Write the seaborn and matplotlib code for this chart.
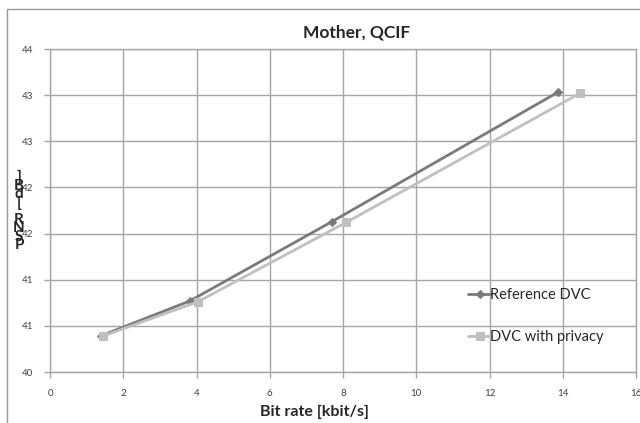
import numpy as np
import pandas as pd
import seaborn as sns
import matplotlib.pyplot as plt
from matplotlib.patches import Rectangle

# data
ref_rate = [1.38, 3.82, 7.70, 13.86]
ref_psnr = [40.39, 40.77, 41.63, 43.03]
priv_rate = [1.45, 4.03, 8.08, 14.47]
priv_psnr = [40.39, 40.76, 41.62, 43.02]
x_ticks = [0, 2, 4, 6, 8, 10, 12, 14, 16]
y_ticks = [40.0, 40.5, 41.0, 41.5, 42.0, 42.5, 43.0, 43.5]
y_tick_labels = ['40', '41', '41', '42', '42', '43', '43', '44']  # Excel rounds to 0 decimals

sns.set_style('white')
plt.rcParams['font.family'] = ['Lato', 'DejaVu Sans']

fig = plt.figure(figsize=(6.4, 4.23), dpi=100)
ax = fig.add_axes([50 / 640, 1 - 372 / 423, 586 / 640, 323 / 423])

grid_col = '#a6a6a6'
ref_col = '#7a7a7a'
priv_col = '#c0c0c0'

sns.lineplot(x=ref_rate, y=ref_psnr, ax=ax, color=ref_col, lw=2, marker='D',
             markersize=4.5, markeredgecolor=ref_col, sort=False, label='Reference DVC')
sns.lineplot(x=priv_rate, y=priv_psnr, ax=ax, color=priv_col, lw=2, marker='s',
             markersize=5.5, markeredgecolor=priv_col, sort=False, label='DVC with privacy')

ax.set_xlim(0, 16)
ax.set_ylim(40, 43.5)
ax.set_xticks(x_ticks)
ax.set_xticklabels([str(t) for t in x_ticks])
ax.set_yticks(y_ticks)
ax.set_yticklabels(y_tick_labels)
ax.grid(True, color=grid_col, lw=1)
for s in ax.spines.values():
    s.set_color(grid_col)
    s.set_linewidth(1)
ax.tick_params(axis='both', direction='out', length=4, width=1, color=grid_col,
               labelsize=7, labelcolor='#404040', pad=8, left=True, bottom=True)
ax.tick_params(axis='x', pad=8)
ax.set_xlabel('')
ax.set_ylabel('')

leg = ax.legend(loc='center left', bbox_to_anchor=(462 / 640, 1 - 316 / 423),
                bbox_transform=fig.transFigure, frameon=False, fontsize=10.5,
                handlelength=1.6, handletextpad=-0.1, labelspacing=1.9,
                borderaxespad=0)
for t in leg.get_texts():
    t.set_color('#262626')

fig.text(357 / 640, 1 - 33 / 423, 'Mother, QCIF', ha='center', va='center',
         fontsize=12.5, fontweight='bold', color='#262626')
fig.text(315 / 640, 1 - 412 / 423, 'Bit rate [kbit/s]', ha='center', va='center',
         fontsize=11.5, fontweight='bold', color='#262626')
# y label rendered as stacked glyphs, like the original export
fig.text(19 / 640, 1 - 211 / 423, ']\nB\nd\n[\n\nR\nN\nS\nP', ha='center', va='center',
         fontsize=11, fontweight='bold', color='#262626', linespacing=0.5)

# outer chart frame
fig.add_artist(Rectangle((7 / 640, -0.1), 1.0, 1 + 0.1 - 9 / 423, transform=fig.transFigure,
                         fill=False, edgecolor='#999999', lw=1))

fig.savefig('out.png', dpi=100)
